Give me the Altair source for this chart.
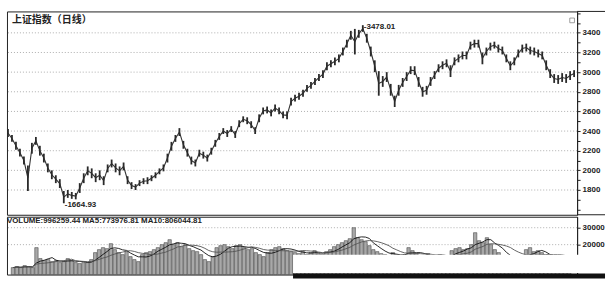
import altair as alt
import pandas as pd

# ---- data ----
highs = [2420, 2360, 2290, 2220, 2140, 2050, 2280, 2340, 2250, 2170,
         2070, 2000, 1950, 1910, 1790, 1800, 1780, 1770, 1870, 1970,
         2040, 2020, 1970, 2000, 1940, 2060, 2110, 2070, 2040, 2080,
         1940, 1880, 1860, 1900, 1920, 1930, 1950, 1980, 2020, 2060,
         2170, 2290, 2360, 2430, 2300, 2220, 2140, 2110, 2210, 2190,
         2160, 2230, 2310, 2380, 2430, 2410, 2450, 2400, 2510, 2550,
         2540, 2500, 2440, 2570, 2640, 2650, 2620, 2670, 2640, 2600,
         2600, 2740, 2770, 2790, 2820, 2870, 2900, 2940, 2980, 3020,
         3100, 3120, 3150, 3180, 3250, 3330, 3420, 3440, 3430, 3478.01,
         3390, 3260, 3120, 3010, 2960, 3000, 2880, 2760, 2870, 2940,
         3000, 3060, 3060, 2950, 2850, 2860, 2950, 3010, 3080, 3110,
         3130, 3070, 3150, 3180, 3210, 3210, 3310, 3330, 3330, 3200,
         3250, 3300, 3310, 3280, 3260, 3180, 3110, 3150, 3230, 3280,
         3290, 3260, 3250, 3230, 3210, 3120, 3030, 2980, 2970, 2990,
         2980, 3010, 3020]
lows = [2340, 2290, 2210, 2140, 2060, 1790, 2170, 2260, 2150, 2080,
        1980, 1910, 1870, 1820, 1664.93, 1720, 1710, 1705, 1770, 1870,
        1950, 1920, 1880, 1900, 1850, 1980, 2030, 1980, 1950, 2000,
        1860, 1810, 1800, 1840, 1860, 1860, 1890, 1920, 1960, 1990,
        2080, 2200, 2290, 2350, 2220, 2140, 2060, 2040, 2140, 2120,
        2090, 2160, 2240, 2310, 2370, 2340, 2390, 2330, 2440, 2490,
        2470, 2430, 2370, 2490, 2570, 2580, 2550, 2600, 2570, 2530,
        2520, 2660, 2700, 2720, 2750, 2800, 2830, 2870, 2910, 2940,
        3020, 3050, 3070, 3100, 3170, 3250, 3330, 3180, 3350, 3410,
        3300, 3160, 3000, 2760, 2850, 2900, 2760, 2645, 2760, 2850,
        2910, 2980, 2970, 2850, 2750, 2770, 2860, 2930, 3000, 3030,
        3050, 2950, 3070, 3100, 3130, 3130, 3230, 3250, 3250, 3080,
        3170, 3220, 3240, 3200, 3180, 3100, 3020, 3070, 3150, 3200,
        3210, 3180, 3170, 3150, 3130, 3020, 2940, 2890, 2880, 2900,
        2890, 2920, 2950]
volumes = [6470, 7060, 6470, 7650, 7060, 6470, 18240,
           11770, 10590, 11180, 10000, 10590, 9420, 10000, 11770, 10590, 9420, 8830, 9420,
           9420, 11180,
           15300, 17060, 18240, 17650,
           20590,
           17060, 15300, 14120, 15880, 12940, 11180, 10000,
           14120, 15300, 15880,
           17060, 18240, 20000, 21180, 22940, 20000, 21180, 18820, 20000, 17650, 16470, 15880, 14120,
           11180, 10000, 12940,
           18240, 19410, 20000, 18820, 17650, 19410, 20000, 18240, 17060, 17650,
           15300, 14120, 12940, 15300,
           17060, 18240, 18820, 17650, 16470, 15880,
           15300, 14710, 15880, 14120, 15300, 16470, 14710, 14120, 15880, 17060,
           18820, 20000, 21180, 22350, 23530,
           30000,
           24120, 22940, 21770,
           19410, 17060, 15880,
           14710, 14120, 13530, 15300, 14120, 12940, 14120,
           18240, 16470, 14710,
           12940, 11770, 14710, 12350, 11180, 14120, 12940, 11770,
           16470, 17650, 18240, 17060, 17650, 20000,
           27060,
           22350, 21180, 24120,
           20000, 17060, 15300,
           12940, 11770, 11180, 12350, 10590, 11770,
           17060, 18240, 15880, 16470, 15300,
           12940, 11180, 11770, 10590, 11180, 12350, 11770]
price_grid = [1800, 2000, 2200, 2400, 2600, 2800, 3000, 3200, 3400]
price_ticks = list(range(1600, 3700, 100))
vol_grid = [20000, 30000]
title_text = "上证指数（日线）"
vol_header = "VOLUME:996259.44  MA5:773976.81  MA10:806044.81"

n = min(len(highs), len(lows))
df = pd.DataFrame({"i": list(range(n)), "high": highs[:n], "low": lows[:n]})
df["mid"] = (df["high"] + df["low"]) / 2
vdf = pd.DataFrame({"i": list(range(len(volumes))), "vol": volumes})

imax = int(df["high"].idxmax())
imin = int(df["low"].idxmin())
ann = pd.DataFrame({
    "i": [imax, imin],
    "v": [df["high"][imax], df["low"][imin]],
    "t": ["-" + f"{df['high'][imax]:.2f}", "-" + f"{df['low'][imin]:.2f}"],
})

W, H1, H2 = 572, 204, 58
INK = "#222222"
xs = alt.Scale(domain=[-0.25, n - 0.25], nice=False, zero=False)
ys = alt.Scale(domain=[1548, 3618], nice=False, zero=False)
vs = alt.Scale(domain=[2350, 36470], nice=False, zero=False)
X = alt.X("i:Q", scale=xs, axis=None)

label_expr = ("(datum.value % 200 == 0 && datum.value >= 1800 && datum.value <= 3400)"
              " ? format(datum.value, 'd') : ''")
price_axis = alt.Axis(orient="right", values=price_ticks, grid=False, labelOverlap=False,
                      labelExpr=label_expr, title=None)

grid1 = alt.Chart(pd.DataFrame({"g": price_grid})).mark_rule(
    color="#9a9a9a", strokeDash=[1, 2], strokeWidth=0.8
).encode(y=alt.Y("g:Q", scale=ys, axis=price_axis))

bars = alt.Chart(df).mark_rule(color="#2a2a2a", strokeWidth=1.8).encode(
    x=X, y=alt.Y("low:Q", scale=ys, axis=price_axis), y2="high:Q")

path = alt.Chart(df).mark_line(color="#333", strokeWidth=1.1).encode(
    x=X, y=alt.Y("mid:Q", scale=ys, axis=price_axis))

ann_ch = alt.Chart(ann).mark_text(align="left", baseline="middle", dx=1, dy=2, fontSize=8,
                                  fontWeight="bold", font="Liberation Sans", color=INK).encode(
    x=X, y=alt.Y("v:Q", scale=ys, axis=price_axis), text="t:N")

title = alt.Chart(pd.DataFrame({"t": [title_text]})).mark_text(
    align="left", baseline="middle", font="Noto Sans CJK SC", fontSize=10,
    fontWeight="bold", color=INK).encode(x=alt.value(5), y=alt.value(9), text="t:N")

icon = alt.Chart(pd.DataFrame({"a": [0]})).mark_point(
    shape="square", size=22, filled=False, stroke="#555", strokeWidth=0.8).encode(
    x=alt.value(567), y=alt.value(9))

ext = alt.Chart(pd.DataFrame({"y": [0]})).mark_rule(color=INK, strokeWidth=1).encode(
    x=alt.value(W), x2=alt.value(600), y=alt.value(0))
ext2 = alt.Chart(pd.DataFrame({"y": [0]})).mark_rule(color=INK, strokeWidth=1).encode(
    x=alt.value(W), x2=alt.value(600), y=alt.value(H1))

top = alt.layer(grid1, path, bars, ann_ch, title, icon, ext, ext2).properties(width=W, height=H1)

vol_axis = alt.Axis(orient="right", values=vol_grid, grid=False, format="d", title=None,
                    labelOverlap=False)
grid2 = alt.Chart(pd.DataFrame({"g": vol_grid})).mark_rule(
    color="#9a9a9a", strokeDash=[1, 2], strokeWidth=0.8
).encode(y=alt.Y("g:Q", scale=vs, axis=vol_axis))

vbars = alt.Chart(vdf).mark_bar(width=3.4, color="#a8a8a8", stroke="#333", strokeWidth=0.5).encode(
    x=X, y=alt.Y("vol:Q", scale=vs, axis=vol_axis), y2=alt.datum(2350))

ma5 = alt.Chart(vdf).transform_window(ma="mean(vol)", frame=[-4, 0]).mark_line(
    color="#111", strokeWidth=0.9).encode(x=X, y=alt.Y("ma:Q", scale=vs, axis=vol_axis))
ma10 = alt.Chart(vdf).transform_window(ma="mean(vol)", frame=[-9, 0]).mark_line(
    color="#555", strokeWidth=0.9).encode(x=X, y=alt.Y("ma:Q", scale=vs, axis=vol_axis))

vhead = alt.Chart(pd.DataFrame({"t": [vol_header]})).mark_text(
    align="left", baseline="middle", font="Liberation Sans", fontSize=7.9,
    fontWeight="bold", color=INK).encode(x=alt.value(0), y=alt.value(4), text="t:N")

patch = alt.Chart(pd.DataFrame({"a": [0]})).mark_rect(color="white").encode(
    x=alt.value(287), x2=alt.value(600), y=alt.value(38), y2=alt.value(56.5))
darkbar = alt.Chart(pd.DataFrame({"a": [0]})).mark_rect(color="#111").encode(
    x=alt.value(287), x2=alt.value(600), y=alt.value(57), y2=alt.value(62))

bottom = alt.layer(grid2, vbars, ma5, ma10, vhead, patch, darkbar).properties(width=W, height=H2)

chart = alt.vconcat(top, bottom, spacing=0).properties(
    padding={"left": 5, "top": 8, "right": 2, "bottom": 2},
    background="white",
).configure_view(stroke=INK, strokeWidth=1).configure_axis(
    labelFont="Liberation Sans", labelFontSize=8, labelFontWeight="bold", labelColor=INK,
    tickColor=INK, domainColor=INK, tickSize=3, labelPadding=2, domainWidth=1,
)

chart.save("out.html", embed_options={"renderer": "svg", "actions": False})
